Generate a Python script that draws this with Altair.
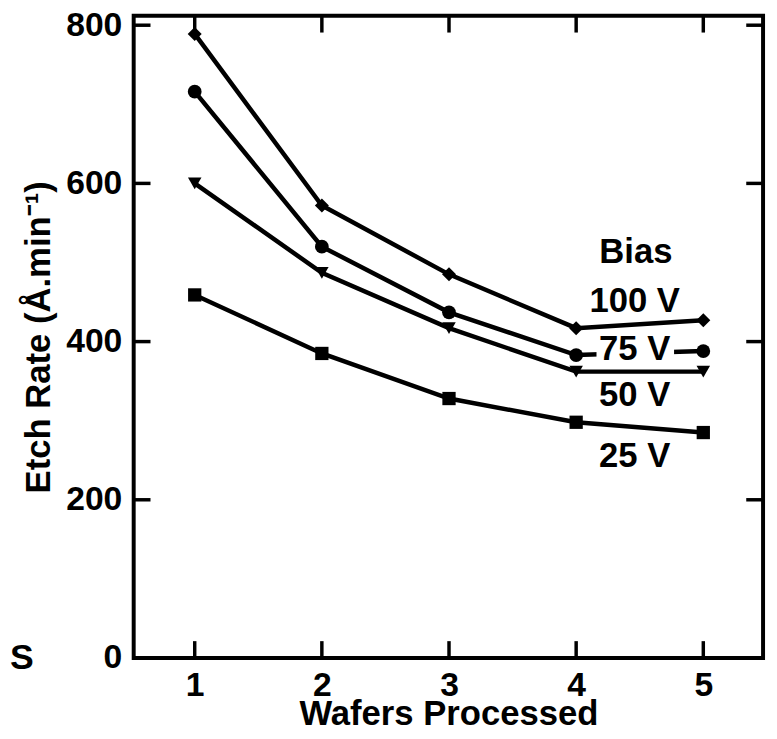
import altair as alt
import pandas as pd

# ---- data ----
wafers = [1, 2, 3, 4, 5]
bias_100 = [789, 572, 485, 417, 427]
bias_75 = [716, 520, 437, 383, 388]
bias_50 = [600, 487, 417, 362, 362]
bias_25 = [459, 385, 328, 298, 285]
series_names = ["100 V", "75 V", "50 V", "25 V"]
series_shapes = ["diamond", "circle", "triangle-down", "square"]
series_sizes = [200, 180, 190, 140]

label_text = ["Bias", "100 V", "75 V", "50 V", "25 V"]
label_x = [4.47, 4.46, 4.46, 4.46, 4.46]
label_y = [499, 437, 377, 318, 242]

# white knock-out box behind the "75 V" label (line gap in the reference)
gap_x = [4.16]
gap_x2 = [4.77]
gap_y = [376]
gap_y2 = [400]

corner_text = ["S"]
corner_x = [-0.36]
corner_y = [-14]

x_ticks = [1, 2, 3, 4, 5]
y_ticks = [0, 200, 400, 600, 800]

FONT = "Liberation Sans"
W, H, TL = 636, 649, 17

rows = []
for name, vals in zip(series_names, [bias_100, bias_75, bias_50, bias_25]):
    for w, v in zip(wafers, vals):
        rows.append({"series": name, "wafer": w, "rate": v})
df = pd.DataFrame(rows)
labels_df = pd.DataFrame({"text": label_text, "x": label_x, "y": label_y})
gap_df = pd.DataFrame({"x": gap_x, "x2": gap_x2, "y": gap_y, "y2": gap_y2})
corner_df = pd.DataFrame({"text": corner_text, "x": corner_x, "y": corner_y})
xt_df = pd.DataFrame({"xt": x_ticks})
yt_df = pd.DataFrame({"yt": y_ticks})

xscale = alt.Scale(domain=[0.52, 5.47], nice=False, zero=False)
yscale = alt.Scale(domain=[0, 812], nice=False)

# identical axis definitions in every layer so that they merge into one
x_axis = alt.Axis(orient="bottom", values=x_ticks, domain=False, ticks=False,
                  grid=False, title="Wafers Processed", labelPadding=11,
                  titleY=67, titleBaseline="alphabetic")
y_axis = alt.Axis(orient="left", values=y_ticks, domain=False, ticks=False,
                  grid=False, title="Etch Rate (Å.min⁻¹)", labelPadding=12,
                  titleX=-85, titleBaseline="alphabetic", titleAngle=-90)


def X(field):
    return alt.X(field, type="quantitative", scale=xscale, axis=x_axis)


def Y(field):
    return alt.Y(field, type="quantitative", scale=yscale, axis=y_axis)


# inward tick marks on all four sides, placed by the scales
rule_style = dict(color="black", strokeWidth=3.5, opacity=1)
tick_bottom = alt.Chart(xt_df).mark_rule(**rule_style).encode(
    x=X("xt"), y=alt.value(H - TL), y2=alt.value(H))
tick_top = alt.Chart(xt_df).mark_rule(**rule_style).encode(
    x=X("xt"), y=alt.value(0), y2=alt.value(TL))
tick_left = alt.Chart(yt_df).mark_rule(**rule_style).encode(
    y=Y("yt"), x=alt.value(0), x2=alt.value(TL))
tick_right = alt.Chart(yt_df).mark_rule(**rule_style).encode(
    y=Y("yt"), x=alt.value(W - TL), x2=alt.value(W))

lines = alt.Chart(df).mark_line(color="black", strokeWidth=4.5).encode(
    x=X("wafer"), y=Y("rate"), detail="series:N",
)

points = alt.Chart(df).mark_point(filled=True, color="black", opacity=1).encode(
    x=X("wafer"), y=Y("rate"),
    shape=alt.Shape("series:N", scale=alt.Scale(domain=series_names, range=series_shapes), legend=None),
    size=alt.Size("series:N", scale=alt.Scale(domain=series_names, range=series_sizes), legend=None),
)

gap = alt.Chart(gap_df).mark_rect(color="white").encode(
    x=X("x"), x2="x2:Q", y=Y("y"), y2="y2:Q",
)

texts = alt.Chart(labels_df).mark_text(
    font=FONT, fontWeight="bold", fontSize=35, color="black", align="center",
    baseline="alphabetic",
).encode(x=X("x"), y=Y("y"), text="text:N")

corner = alt.Chart(corner_df).mark_text(
    font=FONT, fontWeight="bold", fontSize=36, color="black", align="center",
    baseline="alphabetic",
).encode(x=X("x"), y=Y("y"), text="text:N")

chart = alt.layer(tick_bottom, tick_top, tick_left, tick_right, lines, gap, texts,
                  points, corner).properties(
    width=W, height=H,
    background="white",
    autosize=alt.AutoSizeParams(type="none"),
    padding={"left": 127, "top": 4, "right": 6, "bottom": 70},
).configure_view(
    stroke="black", strokeWidth=4, fill="white",
).configure_axis(
    labelFont=FONT, labelFontWeight="bold", labelFontSize=34, labelColor="black",
    titleFont=FONT, titleFontWeight="bold", titleFontSize=35, titleColor="black",
)

chart.save("out.html", embed_options={"renderer": "svg", "actions": False})
